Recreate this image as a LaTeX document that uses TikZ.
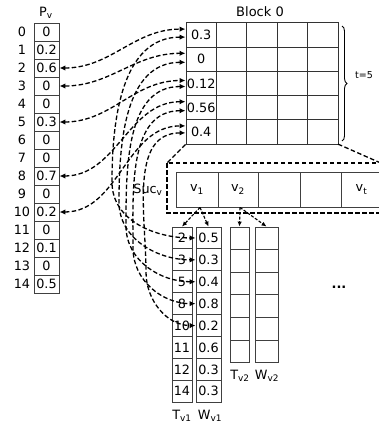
\documentclass[tikz,border=0pt]{standalone}
\usepackage{fontspec}
\setmainfont{DejaVu Sans}
\usetikzlibrary{arrows.meta,decorations.pathreplacing}
\begin{document}
\begin{tikzpicture}[x=1pt,y=-1pt,
  txt/.style={font=\fontsize{12.8}{14}\selectfont},
  cell/.style={txt,draw=black!75,line width=0.9pt,inner sep=0pt},
  lab/.style={txt,inner sep=0pt},
  gridline/.style={draw=black!80,line width=1pt},
  tip/.tip={Latex[length=6pt,width=5.5pt]},
  link/.style={dash pattern=on 4.5pt off 2.4pt,line width=1.3pt,-tip},
  blink/.style={dash pattern=on 4.5pt off 2.4pt,line width=1.3pt,tip-tip},
  zoomline/.style={dash pattern=on 4.5pt off 2.5pt,line width=1.3pt}
]
\useasboundingbox (0,0) rectangle (379,428);
\begin{scope}
\clip (0,0) rectangle (379,428);
% P_v array
\node[lab] (pvl) at (46,13) {P\textsubscript{v}};
\foreach \v [count=\i from 0] in {0,0.2,0.6,0,0,0.3,0,0,0.7,0,0.2,0,0.1,0,0.5} {
  \node[cell,minimum width=25pt,minimum height=18pt] (p\i) at (46.5,{32+18*\i}) {\v};
  \node[lab] (pi\i) at (22,{32+18*\i}) {\i};
}
% Block 0
\node[lab,font=\fontsize{13}{15}\selectfont] (blk) at (260,12) {Block 0};
\foreach \v [count=\i from 0] in {0.3,0,0.12,0.56,0.4}
  \node[cell,draw=black!80,line width=1pt,minimum width=30.4pt,minimum height=24.2pt] (b\i) at (201.2,{35.1+24.2*\i}) {\v};
\draw[gridline] (b0.north east) rectangle (338,144.1);
\foreach \x in {246.8,277.2,307.6} \draw[gridline] (\x,23) -- (\x,144.1);
\foreach \y in {47.2,71.4,95.6,119.8} \draw[gridline] (216.4,\y) -- (338,\y);
\draw[decorate,decoration={brace,amplitude=5pt},line width=0.9pt] (342,26) -- (342,141);
\node[lab,font=\fontsize{9.5}{11}\selectfont] (tl) at (364,75) {t=5};
% zoom of a block row
\coordinate (zl) at (167,163);
\coordinate (zr) at (392,168);
\draw[zoomline] (b4.south west) -- (zl);
\draw[zoomline] (338,144.1) -- (zr);
\draw[zoomline] (zl) rectangle (400,213);
\foreach \x/\w/\t [count=\i] in {197/42/v\textsubscript{1},238/40/v\textsubscript{2},279/42/{},320.5/41/{},361.5/41/v\textsubscript{t}}
  \node[cell,minimum width=\w pt,minimum height=35pt] (c\i) at (\x,189.5) {\t};
\node[lab] (suc) at (148,190) {Suc\textsubscript{v}};
% T_v1 / W_v1
\foreach \t/\w [count=\i from 0] in {2/0.5,3/0.3,5/0.4,8/0.8,10/0.2,11/0.6,12/0.3,14/0.3} {
  \node[cell,minimum width=20pt,minimum height=21.9pt] (t\i) at (182,{237.95+21.9*\i}) {\t};
  \node[cell,minimum width=25pt,minimum height=21.9pt] (w\i) at (208.5,{237.95+21.9*\i}) {\w};
}
\foreach \i in {0,...,5} {
  \node[cell,minimum width=19pt,minimum height=22.6pt] (tt\i) at (239.5,{238.3+22.6*\i}) {};
  \node[cell,minimum width=23pt,minimum height=22.6pt] (ww\i) at (266.5,{238.3+22.6*\i}) {};
}
\node[lab] (tv1) at (182,416) {T\textsubscript{v1}};
\node[lab] (wv1) at (210,416) {W\textsubscript{v1}};
\node[lab] (tv2) at (240,376) {T\textsubscript{v2}};
\node[lab] (wv2) at (267,376) {W\textsubscript{v2}};
\node[lab,font=\bfseries\fontsize{13}{14}\selectfont] (dots) at (339,287) {...};
% arrows from v1, v2
\tikzset{small/.style={dash pattern=on 3pt off 1.6pt,line width=1.1pt,-{Latex[length=5pt,width=4.5pt]}}}
\draw[small] ([xshift=3pt]c1.south) -- (t0.north);
\draw[small] ([xshift=3pt]c1.south) -- (w0.north);
\draw[small] ([xshift=2pt]c2.south) -- (tt0.north);
\draw[small] ([xshift=2pt]c2.south) -- (ww0.north);
% P_v <-> block
\draw[blink] (p2.east) to[out=0,in=180] ([yshift=6pt]b0.west);
\draw[blink] (p3.east) to[out=0,in=180] ([yshift=6pt]b1.west);
\draw[blink] (p5.east) to[out=0,in=180] ([yshift=3pt]b2.west);
\draw[blink] (p8.east) to[out=0,in=180] ([yshift=6pt]b3.west);
\draw[blink] (p10.east) to[out=0,in=180] ([yshift=6pt]b4.west);
% W_v1 <-> block
\coordinate (m0) at (112,182);
\coordinate (m1) at (119,202);
\coordinate (m2) at (126,226);
\coordinate (m3) at (133,248);
\coordinate (m4) at (146,272);
\draw[blink] ([yshift=-2pt]b0.west) to[out=180,in=90] (m0) to[out=-90,in=180] (w0.west);
\draw[blink] ([yshift=-3pt]b1.west) to[out=180,in=90] (m1) to[out=-90,in=180] (w1.west);
\draw[blink] ([yshift=-3pt]b2.west) to[out=180,in=90] (m2) to[out=-90,in=180] (w2.west);
\draw[blink] ([yshift=-3pt]b3.west) to[out=180,in=90] (m3) to[out=-90,in=180] (w3.west);
\draw[blink] ([yshift=-1pt]b4.west) to[out=180,in=90] (m4) to[out=-90,in=180] (w4.west);
\end{scope}
\end{tikzpicture}
\end{document}
